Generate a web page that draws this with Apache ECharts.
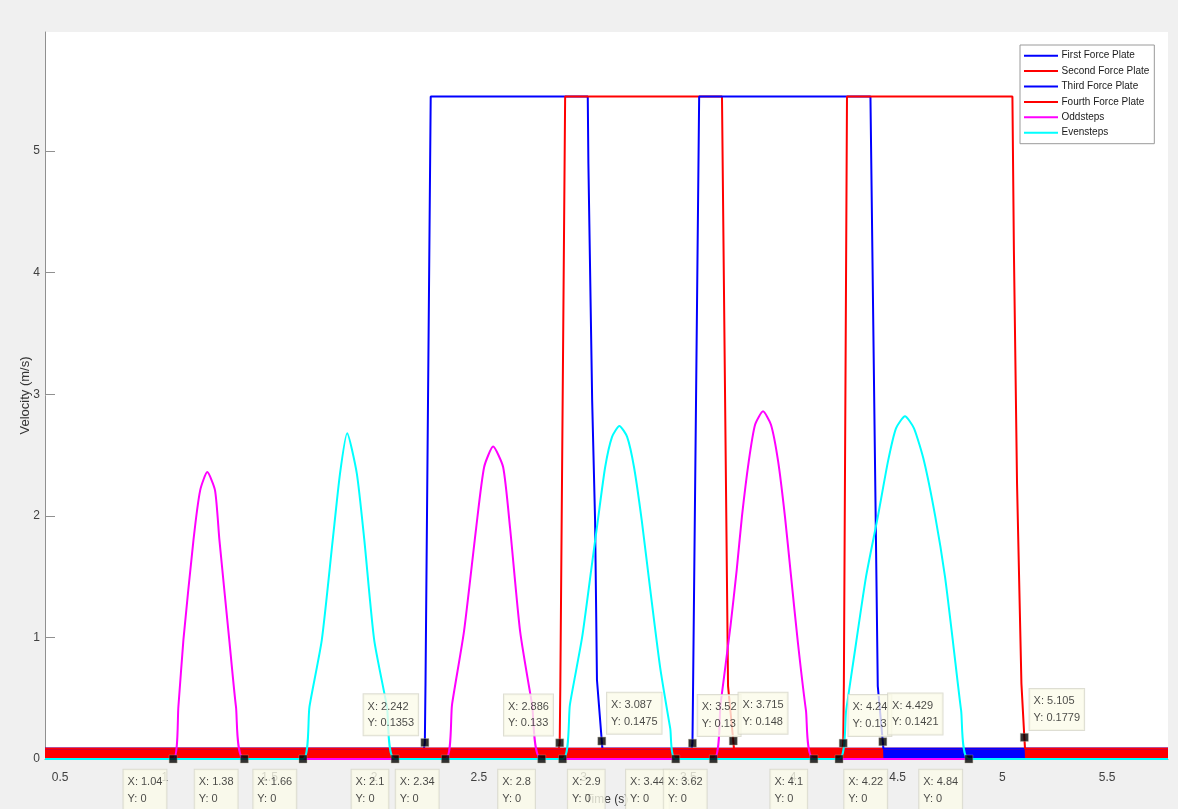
<!DOCTYPE html>
<html>
<head>
<meta charset="utf-8">
<script src="https://cdn.jsdelivr.net/npm/echarts@6/dist/echarts.min.js"></script>
<style>
html,body{margin:0;padding:0;background:#f0f0f0;}
#c{width:1178px;height:809px;}
</style>
</head>
<body>
<div id="c"></div>
<script>
// ---------- data ----------
const xLimits = [0.428, 5.791];
const yLimits = [0, 5.98];
const seriesNames = ['First Force Plate', 'Second Force Plate', 'Third Force Plate', 'Fourth Force Plate', 'Oddsteps', 'Evensteps'];

// force plate signals ([time, velocity]); rest level ~0.085 (noise band)
const firstPlate = [[0.428,0.085],[2.238,0.085],[2.242,0.1353],[2.245,0.6],[2.270,5.45],[3.020,5.45],[3.023,4.9],[3.041,2.95],[3.055,1.96],[3.064,0.65],[3.087,0.1475],[3.090,0.085],[5.791,0.085]];
const secondPlate = [[0.428,0.085],[2.882,0.085],[2.886,0.133],[2.889,0.6],[2.912,5.45],[3.661,5.45],[3.690,0.6],[3.715,0.148],[3.718,0.085],[5.791,0.085]];
const thirdPlate = [[0.428,0.085],[3.516,0.085],[3.520,0.13],[3.523,0.6],[3.552,5.45],[4.370,5.45],[4.405,0.6],[4.429,0.1421],[4.432,0.085],[5.791,0.085]];
const fourthPlate = [[0.428,0.085],[4.236,0.085],[4.240,0.13],[4.243,0.6],[4.258,5.45],[5.048,5.45],[5.055,4.19],[5.070,2.27],[5.091,0.62],[5.105,0.1779],[5.108,0.085],[5.791,0.085]];

// step velocity curves
const oddsteps = [[0.428,0],[1.040,0],[1.065,0.43],[1.089,0.98],[1.137,1.80],[1.169,2.21],[1.203,2.36],[1.240,2.21],[1.261,1.80],[1.308,0.98],[1.340,0.43],[1.380,0],
  [2.340,0],[2.372,0.45],[2.429,1.05],[2.487,1.90],[2.525,2.40],[2.568,2.57],[2.616,2.40],[2.649,1.90],[2.697,1.05],[2.754,0.45],[2.800,0],
  [3.620,0],[3.654,0.45],[3.702,1.10],[3.731,1.55],[3.756,1.99],[3.789,2.45],[3.819,2.75],[3.857,2.86],[3.895,2.75],[3.929,2.45],[3.962,1.99],[3.991,1.50],[4.024,0.95],[4.062,0.40],[4.100,0],[5.791,0]];
const evensteps = [[0.428,0],[1.660,0],[1.691,0.43],[1.750,0.98],[1.802,1.80],[1.837,2.35],[1.871,2.68],[1.917,2.35],[1.953,1.80],[2.000,0.98],[2.061,0.43],[2.100,0],
  [2.900,0],[2.935,0.45],[2.993,1.00],[3.036,1.55],[3.068,1.96],[3.103,2.40],[3.136,2.65],[3.171,2.74],[3.208,2.65],[3.241,2.40],[3.278,1.96],[3.318,1.40],[3.366,0.75],[3.414,0.25],[3.440,0],
  [4.220,0],[4.254,0.40],[4.301,0.95],[4.349,1.50],[4.406,2.00],[4.454,2.45],[4.492,2.72],[4.535,2.82],[4.578,2.72],[4.626,2.45],[4.679,2.00],[4.726,1.50],[4.765,0.95],[4.803,0.40],[4.840,0],[5.791,0]];

// data tips
const tipX = [1.04, 1.38, 1.66, 2.1, 2.242, 2.34, 2.8, 2.886, 2.9, 3.087, 3.44, 3.52, 3.62, 3.715, 4.1, 4.22, 4.24, 4.429, 4.84, 5.105];
const tipY = [0, 0, 0, 0, 0.1353, 0, 0, 0.133, 0, 0.1475, 0, 0.13, 0, 0.148, 0, 0, 0.13, 0.1421, 0, 0.1779];
// ---------- layout / style ----------
const tipSide = ['bl','bl','bl','bl','al','bl','bl','al','br','ar','bl','ar','bl','ar','bl','br','ar','ar','bl','ar'];
const BLUE = '#0000ff', RED = '#ff0000', MAGENTA = '#ff00ff', CYAN = '#00ffff';
const FONT = '"Liberation Sans", Arial, sans-serif';
const plates = [firstPlate, secondPlate, thirdPlate, fourthPlate];
const plateColors = [BLUE, RED, BLUE, RED];

function restSegments(pts, cut) {
  const segs = []; let cur = [];
  pts.forEach(p => {
    if (p[1] <= cut) cur.push(p);
    else { if (cur.length > 1) segs.push(cur); cur = []; }
  });
  if (cur.length > 1) segs.push(cur);
  return segs;
}

const series = [];
plates.forEach((pts, i) => {
  restSegments(pts, 0.2).forEach(seg => {
    series.push({
      type: 'line', data: seg, showSymbol: false, silent: true, z: 1,
      lineStyle: { width: 1, color: plateColors[i] },
      areaStyle: { color: plateColors[i], opacity: 1 },
      itemStyle: { color: plateColors[i] }
    });
  });
});
plates.forEach((pts, i) => {
  series.push({
    name: seriesNames[i], type: 'line', data: pts, showSymbol: false, z: 2,
    lineStyle: { width: 2, color: plateColors[i] }, itemStyle: { color: plateColors[i] }
  });
});
series.push({ name: seriesNames[4], type: 'line', data: oddsteps, showSymbol: false, z: 3, smooth: 0.2,
  lineStyle: { width: 2, color: MAGENTA }, itemStyle: { color: MAGENTA } });
series.push({ name: seriesNames[5], type: 'line', data: evensteps, showSymbol: false, z: 3, smooth: 0.2,
  lineStyle: { width: 2, color: CYAN }, itemStyle: { color: CYAN } });

// measure tip box widths so that text stays left-aligned inside every box
const measureCtx = document.createElement('canvas').getContext('2d');
measureCtx.font = '11px ' + FONT;
const PAD = 4, BW = 1;
function tipText(x, y) { return 'X: ' + x + '\nY: ' + y; }
function tipWidth(x, y) {
  return Math.max(measureCtx.measureText('X: ' + x).width, measureCtx.measureText('Y: ' + y).width) + 2 * PAD + BW;
}
const H = 5.5, V = 7, VB = 11, S = 8;
const tipData = tipX.map((x, i) => {
  const w = tipWidth(x, tipY[i]);
  const side = tipSide[i];
  const left = side[1] === 'l';
  const above = side[0] === 'a';
  return {
    value: [x, tipY[i]],
    label: {
      position: [S / 2 + (left ? -H - w : H), S / 2 + (above ? -V : VB)],
      align: 'left',
      verticalAlign: above ? 'bottom' : 'top'
    }
  };
});
series.push({
  name: 'tips', type: 'scatter', data: tipData, symbol: 'rect', symbolSize: S, z: 10, zlevel: 1,
  itemStyle: { color: '#000', borderColor: '#b0a890', borderWidth: 0.5 },
  label: {
    show: true,
    formatter: p => tipText(p.value[0], p.value[1]),
    fontFamily: FONT, fontSize: 11, lineHeight: 16.5,
    color: '#1a1a1a', backgroundColor: '#fbfbea', borderColor: '#d6d6c8', borderWidth: BW,
    padding: [PAD, PAD, PAD, PAD]
  }
});

const chart = echarts.init(document.getElementById('c'), null, { renderer: 'canvas' });
chart.setOption({
  backgroundColor: '#f0f0f0',
  animation: false,
  textStyle: { fontFamily: FONT },
  grid: { left: 45, top: 32, right: 10, bottom: 50, show: true, backgroundColor: '#ffffff', borderWidth: 0, containLabel: false, outerBoundsMode: 'none' },
  legend: {
    data: seriesNames, orient: 'vertical', left: 1020, top: 45, zlevel: 2,
    icon: 'rect', itemWidth: 34, itemHeight: 2, itemGap: 3.4,
    padding: [4.7, 5, 5, 4],
    backgroundColor: '#ffffff', borderColor: '#9a9a9a', borderWidth: 1, borderRadius: 0,
    textStyle: { fontSize: 10, lineHeight: 12, color: '#1a1a1a', padding: [0, 0, 0, -1.5] },
    selectedMode: false
  },
  xAxis: {
    type: 'value', min: xLimits[0], max: xLimits[1], splitNumber: 10,
    name: 'Time (s)', nameLocation: 'middle', nameGap: 35, nameMoveOverlap: false,
    nameTextStyle: { fontSize: 12, color: '#333' },
    axisLine: { show: true, onZero: false, lineStyle: { color: '#909090' } },
    axisTick: { show: true, inside: true, length: 10, lineStyle: { color: '#909090' } },
    axisLabel: { fontSize: 12, color: '#404040', margin: 13, showMinLabel: false, showMaxLabel: false },
    splitLine: { show: false }
  },
  yAxis: {
    type: 'value', min: yLimits[0], max: yLimits[1], interval: 1,
    name: 'Velocity (m/s)', nameLocation: 'middle', nameGap: 13, nameRotate: 90, nameMoveOverlap: false,
    nameTextStyle: { fontSize: 13, color: '#333' },
    axisLine: { show: true, lineStyle: { color: '#909090' } },
    axisTick: { show: true, inside: true, length: 10, lineStyle: { color: '#909090' } },
    axisLabel: { fontSize: 12, color: '#404040', margin: 5, showMaxLabel: false },
    splitLine: { show: false }
  },
  series: series
});
</script>
</body>
</html>
